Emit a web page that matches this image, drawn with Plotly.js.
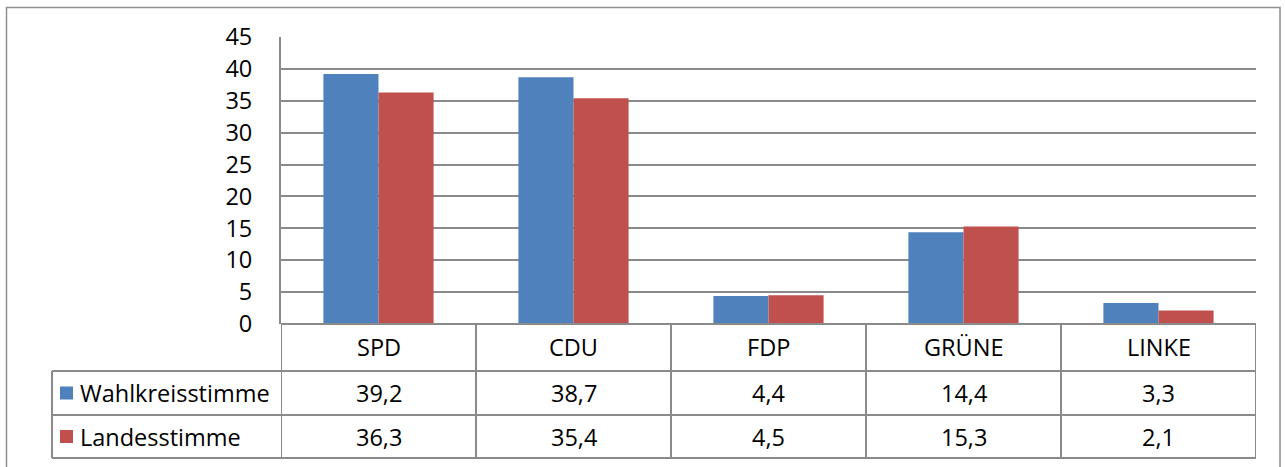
<!DOCTYPE html>
<html>
<head>
<meta charset="utf-8">
<script src="https://cdn.plot.ly/plotly-3.0.1.min.js"></script>
<style>html,body{margin:0;padding:0;background:#fff;}#chart{width:1285px;height:467px;}</style>
</head>
<body>
<div id="chart"></div>
<script>
const categories = ["SPD", "CDU", "FDP", "GRÜNE", "LINKE"];
const seriesNames = ["Wahlkreisstimme", "Landesstimme"];
const wahlkreisstimme = [39.2, 38.7, 4.4, 14.4, 3.3];
const landesstimme = [36.3, 35.4, 4.5, 15.3, 2.1];
const yTicks = [0, 5, 10, 15, 20, 25, 30, 35, 40, 45];

const W = 1285, H = 467;
const L = 281, R = 1256, T = 37, B = 324;
const colors = ["#4F81BD", "#C0504D"];
const grid = "#8A8A8A";
const FONT = "Open Sans, Noto Sans, sans-serif";
const FS = 23.5;

function px(x){ return (x - L) / (R - L); }
function py(y){ return (B - y) / (B - T); }
const fmt = v => v.toFixed(1).replace(".", ",");

const traces = [wahlkreisstimme, landesstimme].map((vals, i) => ({
  type: "bar", x: categories, y: vals, name: seriesNames[i],
  marker: {color: colors[i], line: {width: 0}}, hoverinfo: "none"
}));

const rowY = [324, 371, 415, 458];
const legX = 52;
const shapes = [];
const annotations = [];
const ln = {color: grid, width: 2};

// outer border
shapes.push({type: "rect", xref: "paper", yref: "paper", x0: px(6.5), x1: px(1280), y0: py(7.5), y1: py(475), line: {color: "#8F8F8F", width: 1.5}, layer: "below"});

// table horizontal lines
shapes.push({type: "line", xref: "paper", yref: "paper", x0: 0, x1: 1, y0: py(rowY[0]), y1: py(rowY[0]), line: ln});
for (let r = 1; r < rowY.length; r++) {
  shapes.push({type: "line", xref: "paper", yref: "paper", x0: px(legX), x1: 1, y0: py(rowY[r]), y1: py(rowY[r]), line: ln});
}
// vertical lines at category boundaries
for (let c = 0; c <= categories.length; c++) {
  shapes.push({type: "line", xref: "x", yref: "paper", x0: c - 0.5, x1: c - 0.5, y0: py(rowY[0]), y1: py(rowY[3]), line: ln});
}
// legend column left border
shapes.push({type: "line", xref: "paper", yref: "paper", x0: px(legX), x1: px(legX), y0: py(rowY[1]), y1: py(rowY[3]), line: ln});

// header labels
categories.forEach((c, i) => {
  annotations.push({xref: "x", yref: "paper", x: i, y: py((rowY[0] + rowY[1]) / 2), text: c, showarrow: false, xanchor: "center", yanchor: "middle", font: {family: FONT, size: FS, color: "#000"}});
});
// values
[wahlkreisstimme, landesstimme].forEach((vals, r) => {
  const yc = py((rowY[r + 1] + rowY[r + 2]) / 2);
  vals.forEach((v, i) => {
    annotations.push({xref: "x", yref: "paper", x: i, y: yc, text: fmt(v), showarrow: false, xanchor: "center", yanchor: "middle", font: {family: FONT, size: FS, color: "#000"}});
  });
  // legend key
  shapes.push({type: "rect", xref: "paper", yref: "paper", x0: px(60), x1: px(73), y0: yc - 6.5 / (B - T), y1: yc + 6.5 / (B - T), fillcolor: colors[r], line: {width: 0}});
  annotations.push({xref: "paper", yref: "paper", x: px(78), y: yc, text: seriesNames[r], showarrow: false, xanchor: "left", yanchor: "middle", font: {family: FONT, size: FS, color: "#000"}});
});

const layout = {
  width: W, height: H,
  margin: {l: L, r: W - R, t: T, b: H - B, pad: 0},
  paper_bgcolor: "#fff", plot_bgcolor: "#fff",
  showlegend: false,
  barmode: "group", bargap: 0.435, bargroupgap: 0,
  xaxis: {type: "category", showticklabels: false, showgrid: false, zeroline: false, showline: false, ticks: "", range: [-0.5, categories.length - 0.5], fixedrange: true},
  yaxis: {range: [0, 45], tickvals: yTicks, ticktext: yTicks.map(String), showgrid: true, gridcolor: grid, gridwidth: 2, zeroline: false, showline: true, linecolor: grid, linewidth: 2, ticks: "", ticklabelstandoff: 22, tickfont: {family: FONT, size: FS, color: "#000"}, fixedrange: true},
  shapes: shapes, annotations: annotations,
  font: {family: FONT}
};

Plotly.newPlot("chart", traces, layout, {displayModeBar: false, staticPlot: true});
</script>
</body>
</html>
